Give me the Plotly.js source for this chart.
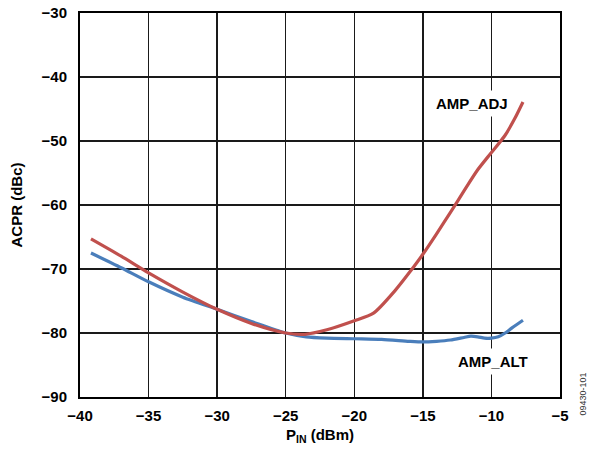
<!DOCTYPE html>
<html>
<head>
<meta charset="utf-8">
<script src="https://cdn.plot.ly/plotly-3.0.1.min.js"></script>
<style>html,body{margin:0;padding:0;background:#fff;}</style>
</head>
<body>
<div id="chart" style="width:595px;height:452px;"></div>
<script>
const adjX = [-39.2, -37, -35, -32.5, -30, -27.5, -25, -23.6, -22, -20, -18.6, -17, -16, -15, -14, -13, -12, -11, -10, -9, -8.3, -7.7];
const adjY = [-65.3, -68.0, -70.6, -73.6, -76.3, -78.5, -80.0, -80.2, -79.5, -78.1, -76.9, -73.3, -70.6, -67.7, -64.5, -61.2, -57.8, -54.5, -51.8, -49.1, -46.5, -43.9];
const altX = [-39.2, -37, -35, -32.5, -30, -27.5, -25, -23.5, -22, -20, -18, -16, -15, -14, -13, -12, -11.5, -11, -10.5, -10, -9.5, -9, -8.5, -7.7];
const altY = [-67.5, -69.8, -72.0, -74.4, -76.3, -78.2, -80.0, -80.6, -80.8, -80.9, -81.0, -81.3, -81.4, -81.3, -81.1, -80.7, -80.5, -80.6, -80.8, -80.8, -80.6, -80.0, -79.2, -78.0];
const xTicks = [-40, -35, -30, -25, -20, -15, -10, -5];
const yTicks = [-90, -80, -70, -60, -50, -40, -30];
const seriesNames = ['AMP_ADJ', 'AMP_ALT'];

const fam = 'Liberation Sans, Arial, sans-serif';
const fs = 15;

const traces = [
  {x: altX, y: altY, mode: 'lines', name: seriesNames[1],
   line: {color: '#4a7ebb', width: 3.2, shape: 'spline', smoothing: 0.7}},
  {x: adjX, y: adjY, mode: 'lines', name: seriesNames[0],
   line: {color: '#c0504d', width: 3.2, shape: 'spline', smoothing: 0.7}}
];

const layout = {
  width: 595, height: 452,
  margin: {l: 80, r: 35, t: 13, b: 55},
  paper_bgcolor: '#fff', plot_bgcolor: '#fff',
  showlegend: false,
  font: {family: fam, size: fs, color: '#000'},
  xaxis: {
    range: [-40, -5], tickvals: xTicks, ticks: '',
    showgrid: true, gridcolor: '#1a1a1a', gridwidth: 1.5,
    showline: true, linecolor: '#000', linewidth: 2, mirror: true,
    zeroline: false, ticklabelstandoff: 4,
    tickfont: {family: fam, size: fs, color: '#000', weight: 'bold'},
    title: {text: '<b>P<sub>IN</sub> (dBm)</b>', standoff: 6,
            font: {family: fam, size: fs, color: '#000'}}
  },
  yaxis: {
    range: [-90, -30], tickvals: yTicks, ticks: '',
    showgrid: true, gridcolor: '#1a1a1a', gridwidth: 1.5,
    showline: true, linecolor: '#000', linewidth: 2, mirror: true,
    zeroline: false, ticklabelstandoff: 8,
    tickfont: {family: fam, size: fs, color: '#000', weight: 'bold'},
    title: {text: '<b>ACPR (dBc)</b>', standoff: 15,
            font: {family: fam, size: fs, color: '#000'}}
  },
  annotations: [
    {x: -11.45, y: -44.2, xref: 'x', yref: 'y', text: '<b>' + seriesNames[0] + '</b>',
     showarrow: false, bgcolor: '#fff', borderpad: 4,
     font: {family: fam, size: fs, color: '#000'}},
    {x: -9.9, y: -84.4, xref: 'x', yref: 'y', text: '<b>' + seriesNames[1] + '</b>',
     showarrow: false, bgcolor: '#fff', borderpad: 4,
     font: {family: fam, size: fs, color: '#000'}},
    {x: (589 - 80) / 480, y: (397 - 418) / 384, xref: 'paper', yref: 'paper', text: '09430-101',
     showarrow: false, textangle: -90,
     font: {family: fam, size: 9, color: '#333'}}
  ]
};

Plotly.newPlot('chart', traces, layout, {displayModeBar: false, staticPlot: true});
</script>
</body>
</html>
